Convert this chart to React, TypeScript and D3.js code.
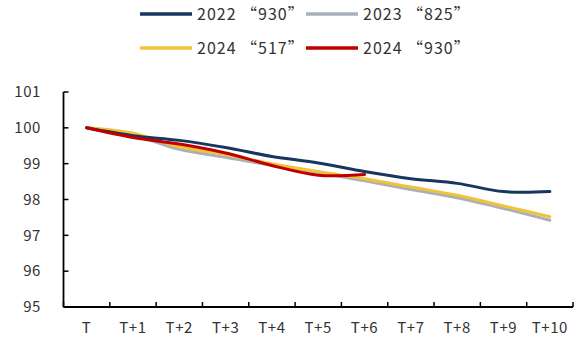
import React from "react";
import * as d3 from "d3";

const categories = ["T", "T+1", "T+2", "T+3", "T+4", "T+5", "T+6", "T+7", "T+8", "T+9", "T+10"];
const yTicks = [95, 96, 97, 98, 99, 100, 101];

const series2022_930 = [100, 99.78, 99.65, 99.45, 99.2, 99.02, 98.78, 98.58, 98.45, 98.22, 98.22];
const series2023_825 = [100, 99.8, 99.4, 99.18, 98.95, 98.75, 98.52, 98.28, 98.05, 97.75, 97.42];
const series2024_517 = [100, 99.85, 99.47, 99.25, 99.0, 98.78, 98.58, 98.35, 98.12, 97.82, 97.52];
const series2024_930 = [100, 99.73, 99.55, 99.3, 98.95, 98.68, 98.7];

const seriesNames = ["2022 “930”", "2023 “825”", "2024 “517”", "2024 “930”"];
const seriesColors = ["#17375e", "#a9b0bb", "#f2c335", "#c00000"];

const W = 577;
const H = 340;
const FONT = "'Noto Sans CJK SC', 'Noto Sans', sans-serif";

export default function App() {
  const left = 63.5;
  const right = 573;
  const x = d3.scaleBand<string>().domain(categories).range([left, right]).padding(0);
  const y = d3.scaleLinear().domain([95, 101]).range([307, 92]);

  const line = d3
    .line<number>()
    .x((_, i) => (x(categories[i]) as number) + x.bandwidth() / 2)
    .y((d) => y(d))
    .curve(d3.curveCatmullRom.alpha(0.5));

  const data = [series2022_930, series2023_825, series2024_517, series2024_930];
  const drawOrder = [1, 2, 0, 3];

  const legendPos = [
    { x: 140, y: 14 },
    { x: 306, y: 14 },
    { x: 140, y: 48 },
    { x: 306, y: 48 },
  ];

  const boundaries = categories.map((c) => x(c) as number).concat([right]);

  return (
    <svg
      width={W}
      height={H}
      style={{ position: "absolute", left: 0, top: 0, background: "#fff" }}
      fontFamily={FONT}
    >
      <rect width={W} height={H} fill="#fff" />
      {/* legend */}
      {seriesNames.map((name, i) => (
        <g key={name} transform={`translate(${legendPos[i].x},${legendPos[i].y})`}>
          <line x1={0} x2={52} y1={0} y2={0} stroke={seriesColors[i]} strokeWidth={3.5} />
          <text x={57} y={0} dy="0.35em" fontSize={16} letterSpacing={1} fill="#333">
            {name}
          </text>
        </g>
      ))}

      {/* y axis */}
      <line x1={left} x2={left} y1={y(101)} y2={y(95)} stroke="#000" strokeWidth={1.8} />
      {yTicks.map((t) => (
        <g key={t}>
          <line x1={left} x2={left + 5} y1={y(t)} y2={y(t)} stroke="#000" strokeWidth={1.5} />
          <text
            x={41}
            y={y(t)}
            dy="0.35em"
            textAnchor="end"
            fontSize={15}
            letterSpacing={0.6}
            fill="#333"
          >
            {t}
          </text>
        </g>
      ))}

      {/* x axis */}
      <line x1={left} x2={right} y1={y(95)} y2={y(95)} stroke="#000" strokeWidth={1.8} />
      {boundaries.map((bx, i) => (
        <line key={i} x1={bx} x2={bx} y1={y(95)} y2={y(95) - 5} stroke="#000" strokeWidth={1.5} />
      ))}
      {categories.map((c) => (
        <text
          key={c}
          x={(x(c) as number) + x.bandwidth() / 2}
          y={328}
          dy="0.35em"
          textAnchor="middle"
          fontSize={15}
          letterSpacing={0.6}
          fill="#333"
        >
          {c}
        </text>
      ))}

      {/* series lines */}
      {drawOrder.map((i) => (
        <path
          key={i}
          d={line(data[i]) as string}
          fill="none"
          stroke={seriesColors[i]}
          strokeWidth={3}
          strokeLinecap="round"
          strokeLinejoin="round"
        />
      ))}
    </svg>
  );
}
